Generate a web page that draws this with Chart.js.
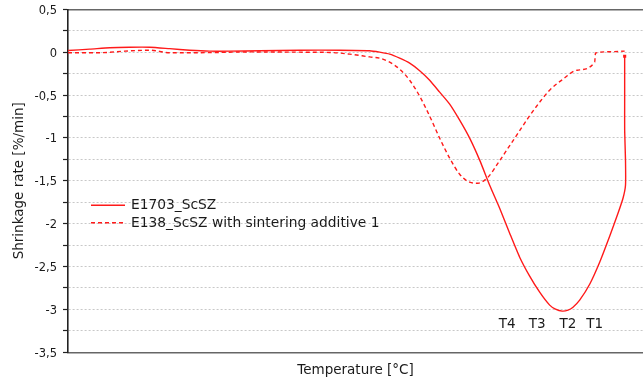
<!DOCTYPE html>
<html>
<head>
<meta charset="utf-8">
<script src="https://cdn.jsdelivr.net/npm/chart.js@4/dist/chart.umd.min.js"></script>
<style>
  html, body { margin: 0; padding: 0; background: #fff; }
  canvas { display: block; }
</style>
</head>
<body>
<canvas id="c" width="643" height="382"></canvas>
<script>
// ---- data (temperature in °C, shrinkage rate in %/min) ----
const seriesNames = ['E1703_ScSZ', 'E138_ScSZ with sintering additive 1'];

const temps1 = [800, 826, 850, 874, 898, 922, 946, 970, 994, 1030, 1078, 1126, 1162, 1174, 1186, 1198, 1210, 1222, 1234,
  1246, 1258, 1270, 1282, 1294, 1306, 1318, 1330, 1342, 1354, 1366, 1378, 1385, 1393, 1400, 1406, 1414,
  1426, 1438, 1450, 1460, 1466, 1469, 1469, 1468, 1468, 1468, 1468];
const rate1 = [0.02, 0.035, 0.052, 0.058, 0.058, 0.041, 0.023, 0.012, 0.012, 0.017, 0.023, 0.023, 0.017, 0.0, -0.023, -0.07, -0.128, -0.216, -0.327,
  -0.466, -0.606, -0.793, -1.003, -1.259, -1.551, -1.819, -2.111, -2.391, -2.612, -2.799, -2.95, -2.997, -3.02, -3.009, -2.974, -2.892,
  -2.706, -2.449, -2.146, -1.878, -1.703, -1.551, -1.259, -0.91, -0.56, -0.268, -0.047];

const temps2 = [800, 838, 868, 898, 922, 958, 1018, 1078, 1114, 1138, 1162, 1174, 1186, 1198, 1210, 1222, 1234, 1246, 1258, 1270,
  1282, 1292, 1304, 1316, 1328, 1340, 1352, 1366, 1378, 1394, 1411, 1432, 1433, 1450, 1468];
const rate2 = [-0.006, -0.006, 0.012, 0.023, -0.006, -0.006, 0.003, 0.0, -0.003, -0.023, -0.055, -0.07, -0.117, -0.198, -0.327, -0.513, -0.746, -1.003, -1.236, -1.423,
  -1.516, -1.528, -1.458, -1.294, -1.12, -0.945, -0.77, -0.583, -0.443, -0.315, -0.21, -0.117, -0.01, 0.005, 0.012];

const tLabels = ['T4', 'T3', 'T2', 'T1'];
const tLabelTemps = [1327, 1363, 1400, 1432];
const tLabelRate = -3.17;

const xMin = 800, xMax = 1490;
const yMin = -3.5, yMax = 0.5, yStep = 0.25;

// ---- styling ----
const RED = '#ff1a1a';
const FONT = "'DejaVu Sans', sans-serif";
const TEXT = '#1a1a1a';

function toPts(xs, ys) { return xs.map((x, i) => ({ x: x, y: ys[i] })); }
function fmt(v) {
  const r = Math.round(v * 10) / 10;
  return String(r).replace('.', ',');
}

const overlayPlugin = {
  id: 'overlay',
  afterDatasetsDraw(chart) {
    const ctx = chart.ctx;
    const xs = chart.scales.x, ys = chart.scales.y;
    const ca = chart.chartArea;
    ctx.save();
    // T labels
    ctx.fillStyle = TEXT;
    ctx.font = "13.5px " + FONT;
    ctx.textAlign = 'center';
    ctx.textBaseline = 'middle';
    tLabels.forEach((t, i) => {
      ctx.fillText(t, xs.getPixelForValue(tLabelTemps[i]), ys.getPixelForValue(tLabelRate));
    });
    // legend inside the plot
    const lx0 = ca.left + 23, lx1 = ca.left + 57, tx = ca.left + 63;
    const rows = [ca.top + 196, ca.top + 213.5];
    ctx.font = "13.8px " + FONT;
    ctx.textAlign = 'left';
    chart.data.datasets.forEach((ds, i) => {
      ctx.strokeStyle = ds.borderColor;
      ctx.lineWidth = ds.borderWidth;
      ctx.setLineDash(ds.borderDash || []);
      ctx.beginPath();
      ctx.moveTo(lx0, rows[i]);
      ctx.lineTo(lx1, rows[i]);
      ctx.stroke();
      ctx.setLineDash([]);
      ctx.fillStyle = TEXT;
      ctx.fillText(ds.label, tx, rows[i] + 0.5);
    });
    ctx.restore();
  }
};

new Chart(document.getElementById('c'), {
  type: 'line',
  data: {
    datasets: [
      {
        label: seriesNames[0],
        data: toPts(temps1, rate1),
        borderColor: RED,
        backgroundColor: RED,
        borderWidth: 1.4,
        tension: 0.2,
        pointStyle: 'rect',
        pointRadius: (c) => c.dataIndex === temps1.length - 1 ? 2.2 : 0,
        pointBorderWidth: 0,
        fill: false
      },
      {
        label: seriesNames[1],
        data: toPts(temps2, rate2),
        borderColor: RED,
        backgroundColor: RED,
        borderWidth: 1.4,
        borderDash: [4, 3],
        cubicInterpolationMode: 'monotone',
        pointRadius: 0,
        fill: false
      }
    ]
  },
  options: {
    responsive: false,
    animation: false,
    devicePixelRatio: 1,
    layout: { padding: 0, autoPadding: false },
    plugins: {
      legend: { display: false },
      tooltip: { enabled: false }
    },
    scales: {
      x: {
        type: 'linear',
        position: 'bottom',
        min: xMin, max: xMax,
        ticks: { display: false },
        grid: { display: false, drawTicks: false },
        border: { display: true, color: '#666', width: 1.5 },
        title: {
          display: true,
          text: 'Temperature [°C]',
          color: TEXT,
          font: { family: FONT, size: 13.5 },
          padding: { top: 0, bottom: 3 }
        },
        afterFit: (s) => { s.height = 29.7; }
      },
      x2: {
        type: 'linear',
        position: 'top',
        min: xMin, max: xMax,
        ticks: { display: false },
        grid: { display: false, drawTicks: false },
        border: { display: true, color: '#666', width: 1.5 },
        afterFit: (s) => { s.height = 9.3; }
      },
      y: {
        type: 'linear',
        min: yMin, max: yMax,
        ticks: {
          stepSize: yStep,
          autoSkip: false,
          color: TEXT,
          padding: 6,
          labelOffset: 1.5,
          font: { family: FONT, size: 11.5, lineHeight: 0.2 },
          callback: (v) => (Math.abs(v * 2 - Math.round(v * 2)) < 1e-9 ? fmt(v) : '')
        },
        grid: {
          color: (c) => (c.tick && (c.tick.value === yMin || c.tick.value === yMax)) ? 'rgba(0,0,0,0)' : '#c8c8c8',
          lineWidth: 1,
          tickLength: 5,
          tickColor: '#222',
          tickWidth: 1.2
        },
        border: { display: true, color: '#222', width: 1.6, dash: [2, 2] },
        title: {
          display: true,
          text: 'Shrinkage rate [%/min]',
          color: TEXT,
          font: { family: FONT, size: 13.5 },
          padding: { top: 11, bottom: 0 }
        },
        afterFit: (s) => { s.width = 68; }
      }
    }
  },
  plugins: [overlayPlugin]
});
</script>
</body>
</html>
